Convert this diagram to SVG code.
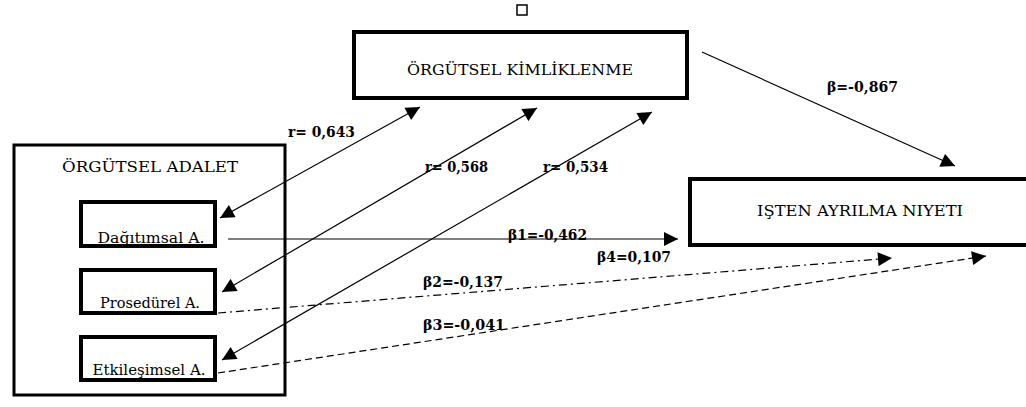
<svg xmlns="http://www.w3.org/2000/svg" width="1026" height="407" viewBox="0 0 1026 407">
<style>
.box{fill:#fff;stroke:#000;stroke-width:4}
.outer{fill:#fff;stroke:#000;stroke-width:3}
.t{font-family:"DejaVu Serif","Liberation Serif","Times New Roman",serif;font-size:15px;fill:#000}
.lbl{font-family:"DejaVu Serif","Liberation Serif","Times New Roman",serif;font-size:14px;font-weight:bold;fill:#000}
.c{fill:none;stroke:#000;stroke-width:1.2}
</style>
<defs>
<marker id="ah" viewBox="0 0 10 10" refX="10" refY="5" markerWidth="16" markerHeight="14" markerUnits="userSpaceOnUse" orient="auto-start-reverse">
<path d="M0,0 L10,5 L0,10 Z" fill="#000"/>
</marker>
</defs>
<rect x="517" y="5" width="10" height="10" fill="#fff" stroke="#000" stroke-width="1.5"/>
<g id="kimliklenme">
<rect class="box" x="354" y="32" width="333" height="66"/>
<text class="t" x="520" y="75" text-anchor="middle" textLength="226" lengthAdjust="spacingAndGlyphs">ÖRGÜTSEL KİMLİKLENME</text>
</g>
<g id="adalet">
<rect class="outer" x="14" y="145" width="271" height="250"/>
<text class="t" x="150" y="172" text-anchor="middle" textLength="176" lengthAdjust="spacingAndGlyphs">ÖRGÜTSEL ADALET</text>
</g>
<g id="dagitimsal">
<rect class="box" x="81" y="202" width="134" height="44"/>
<text class="t" x="151" y="243" text-anchor="middle" textLength="107" lengthAdjust="spacingAndGlyphs">Dağıtımsal A.</text>
</g>
<g id="prosedurel">
<rect class="box" x="81" y="270" width="134" height="43"/>
<text class="t" x="150" y="308" text-anchor="middle" textLength="100" lengthAdjust="spacingAndGlyphs">Prosedürel A.</text>
</g>
<g id="etkilesimsel">
<rect class="box" x="81" y="337" width="134" height="43"/>
<text class="t" x="149" y="375" text-anchor="middle" textLength="113" lengthAdjust="spacingAndGlyphs">Etkileşimsel A.</text>
</g>
<g id="niyet">
<rect class="box" x="690" y="179" width="360" height="66"/>
<text class="t" x="860" y="216" text-anchor="middle" textLength="206" lengthAdjust="spacingAndGlyphs">IŞTEN AYRILMA NIYETI</text>
</g>
<g id="connectors">
<line class="c" x1="702" y1="52" x2="955" y2="166" marker-end="url(#ah)"/>
<line class="c" x1="220" y1="218" x2="420" y2="107" marker-start="url(#ah)" marker-end="url(#ah)"/>
<line class="c" x1="222" y1="292" x2="537" y2="108" marker-start="url(#ah)" marker-end="url(#ah)"/>
<line class="c" x1="222" y1="360" x2="652" y2="112" marker-start="url(#ah)" marker-end="url(#ah)"/>
<line class="c" x1="228" y1="239" x2="678" y2="239" marker-end="url(#ah)"/>
<line class="c" x1="218" y1="313" x2="892" y2="258" stroke-dasharray="8,4,2,4" marker-end="url(#ah)"/>
<line class="c" x1="218" y1="373" x2="986" y2="256" stroke-dasharray="7,4" marker-end="url(#ah)"/>
</g>
<g id="labels">
<text class="lbl" x="827" y="92" textLength="71" lengthAdjust="spacingAndGlyphs">β=-0,867</text>
<text class="lbl" x="288" y="137" textLength="67" lengthAdjust="spacingAndGlyphs">r= 0,643</text>
<text class="lbl" x="425" y="172" textLength="63" lengthAdjust="spacingAndGlyphs">r= 0,568</text>
<text class="lbl" x="543" y="172" textLength="65" lengthAdjust="spacingAndGlyphs">r= 0,534</text>
<text class="lbl" x="508" y="240" textLength="79" lengthAdjust="spacingAndGlyphs">β1=-0,462</text>
<text class="lbl" x="597" y="262" textLength="74" lengthAdjust="spacingAndGlyphs">β4=0,107</text>
<text class="lbl" x="423" y="287" textLength="80" lengthAdjust="spacingAndGlyphs">β2=-0,137</text>
<text class="lbl" x="423" y="330" textLength="82" lengthAdjust="spacingAndGlyphs">β3=-0,041</text>
</g>
</svg>
